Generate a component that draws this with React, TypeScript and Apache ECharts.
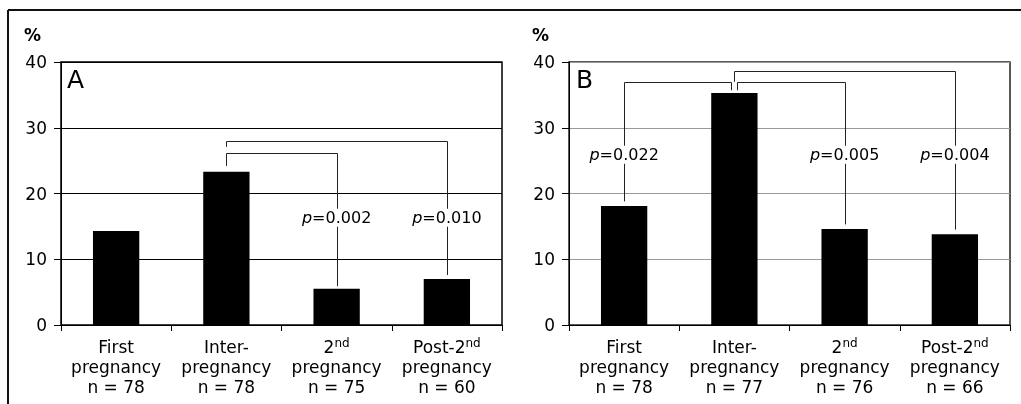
import React, { useEffect, useRef } from "react";
import * as echarts from "echarts";

const categoryNames = ["First#pregnancy", "Inter-#pregnancy", "2{sup|nd}#pregnancy", "Post-2{sup|nd}#pregnancy"];
const nA = [78, 78, 75, 60];
const nB = [78, 77, 76, 66];
const valuesA = [14.3, 23.3, 5.5, 7.0];
const valuesB = [18.1, 35.3, 14.6, 13.8];
const yTicks = [0, 10, 20, 30, 40];

// brackets: [fromCat, toCat, topValue, fromEndValue, toEndValue, labelValue, fromOffsetPx]
const bracketsA = [
  [1, 2, 26.2, 24.2, 5.9, 16.3, 0],
  [1, 3, 28.0, 27.1, 7.6, 16.3, 0],
];
const bracketLabelsA = ["0.002", "0.010"];
const bracketsB = [
  [1, 0, 37.0, 35.7, 18.8, 25.9, -3],
  [1, 2, 37.0, 35.7, 15.3, 25.9, 3],
  [1, 3, 38.7, 37.0, 14.5, 25.9, 0],
];
const bracketLabelsB = ["0.022", "0.005", "0.004"];

const FONT = "DejaVu Sans";

function catLabels(n: number[]) {
  return categoryNames.map((c, i) => c.split("#").join("\n") + "\nn = " + n[i]);
}

function makeBracketRender(labels: string[]) {
  return (params: any, api: any) => {
    const from = api.value(0);
    const to = api.value(1);
    const top = api.value(2);
    const fromEnd = api.value(3);
    const toEnd = api.value(4);
    const labelV = api.value(5);
    const off = api.value(6);
    const pTop = api.coord([from, top]);
    const pFromEnd = api.coord([from, fromEnd]);
    const pTo = api.coord([to, top]);
    const pToEnd = api.coord([to, toEnd]);
    const pLabel = api.coord([to, labelV]);
    const fx = Math.round(pTop[0] + off) + 0.5;
    const tx = Math.round(pTo[0]) + 0.5;
    const ty = Math.round(pTop[1]) + 0.5;
    return {
      type: "group",
      children: [
        {
          type: "polyline",
          shape: {
            points: [
              [fx, pFromEnd[1]],
              [fx, ty],
              [tx, ty],
              [tx, pToEnd[1]],
            ],
          },
          style: { stroke: "#222", lineWidth: 1, fill: null },
        },
        {
          type: "text",
          x: pLabel[0],
          y: pLabel[1],
          style: {
            text: "{i|p}=" + labels[params.dataIndex],
            rich: {
              i: { fontStyle: "italic", fontFamily: FONT, fontSize: 16, fill: "#000" },
            },
            fontFamily: FONT,
            fontSize: 16,
            fill: "#000",
            align: "center",
            verticalAlign: "middle",
            backgroundColor: "#fff",
            padding: [1, 2, 1, 2],
          },
        },
      ],
    };
  };
}

export default function App() {
  const ref = useRef<HTMLDivElement>(null);
  useEffect(() => {
    if (!ref.current) return;
    const chart = echarts.init(ref.current, null, { renderer: "svg" });
    const axisLabelRich = {
      sup: { fontSize: 12, fontFamily: FONT, color: "#000", verticalAlign: "top", lineHeight: 20 },
    };
    const mkX = (gi: number, n: number[]) => ({
      type: "category",
      gridIndex: gi,
      data: catLabels(n),
      axisLine: { show: true, lineStyle: { color: "#000", width: 1 } },
      axisTick: { show: true, length: 6, lineStyle: { color: "#000" } },
      axisLabel: {
        interval: 0,
        margin: 12,
        fontFamily: FONT,
        fontSize: 17,
        lineHeight: 20,
        color: "#000",
        rich: axisLabelRich,
      },
    });
    const mkY = (gi: number, gridColor: string) => ({
      type: "value",
      gridIndex: gi,
      min: yTicks[0],
      max: yTicks[yTicks.length - 1],
      interval: 10,
      axisLine: { show: true, lineStyle: { color: "#000", width: 1 } },
      axisTick: { show: true, length: 7, lineStyle: { color: "#000" } },
      axisLabel: { margin: 14, fontFamily: FONT, fontSize: 17, color: "#000" },
      splitLine: { show: true, lineStyle: { color: gridColor, width: 1 } },
    });
    chart.setOption({
      animation: false,
      grid: [
        { left: 61, right: 519, top: 62, bottom: 79, outerBoundsMode: "none", containLabel: false, show: true, borderColor: "#000", borderWidth: 1.5, backgroundColor: "transparent" },
        { left: 569, right: 11, top: 62, bottom: 79, outerBoundsMode: "none", containLabel: false, show: true, borderColor: "#222", borderWidth: 1.5, backgroundColor: "transparent" },
      ],
      xAxis: [mkX(0, nA), mkX(1, nB)],
      yAxis: [mkY(0, "#000"), mkY(1, "#999")],
      series: [
        { type: "bar", xAxisIndex: 0, yAxisIndex: 0, data: valuesA, barWidth: "42%", itemStyle: { color: "#000" } },
        { type: "bar", xAxisIndex: 1, yAxisIndex: 1, data: valuesB, barWidth: "42%", itemStyle: { color: "#000" } },
        { type: "custom", xAxisIndex: 0, yAxisIndex: 0, data: bracketsA, renderItem: makeBracketRender(bracketLabelsA), clip: false, z: 5 },
        { type: "custom", xAxisIndex: 1, yAxisIndex: 1, data: bracketsB, renderItem: makeBracketRender(bracketLabelsB), clip: false, z: 5 },
      ],
      graphic: [
        { type: "line", shape: { x1: 8, y1: 10, x2: 1021, y2: 10 }, style: { stroke: "#111", lineWidth: 2 } },
        { type: "line", shape: { x1: 8, y1: 10, x2: 8, y2: 404 }, style: { stroke: "#111", lineWidth: 2 } },
        { type: "text", x: 24, y: 26, style: { text: "%", fontFamily: FONT, fontWeight: "bold", fontSize: 17, fill: "#000" } },
        { type: "text", x: 532, y: 26, style: { text: "%", fontFamily: FONT, fontWeight: "bold", fontSize: 17, fill: "#000" } },
        { type: "text", x: 67, y: 67, style: { text: "A", fontFamily: FONT, fontSize: 25, fill: "#000" } },
        { type: "text", x: 576, y: 67, style: { text: "B", fontFamily: FONT, fontSize: 25, fill: "#000" } },
      ],
    });
    return () => chart.dispose();
  }, []);
  return <div ref={ref} style={{ position: "fixed", left: 0, top: 0, width: 1021, height: 404 }} />;
}
